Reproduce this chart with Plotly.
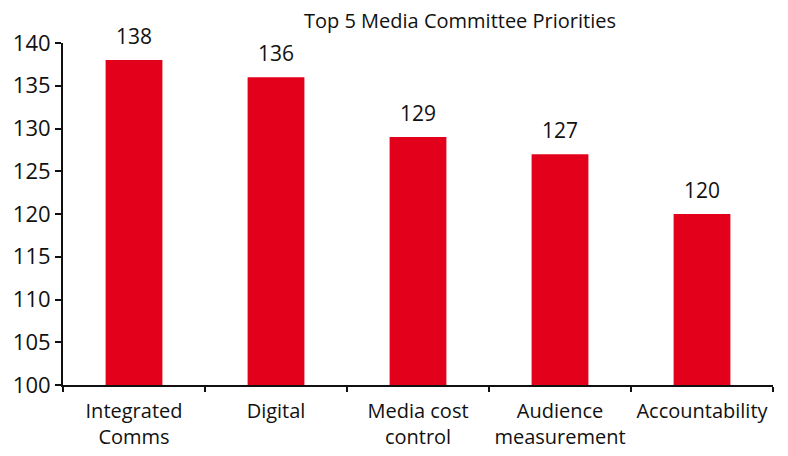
import plotly.graph_objects as go

# Survey results: top five media committee priorities
categories = ["Integrated<br>Comms", "Digital", "Media cost<br>control",
              "Audience<br>measurement", "Accountability"]
scores = [138, 136, 129, 127, 120]
y_ticks = [100, 105, 110, 115, 120, 125, 130, 135, 140]

BAR_RED = "#E3001B"
INK = "#111111"
FONT = "Open Sans"

fig = go.Figure(
    go.Bar(
        x=categories,
        y=scores,
        marker=dict(color=BAR_RED, line=dict(width=0)),
        width=0.4,
        hoverinfo="x+y",
    )
)

# value labels above each bar
for cat, val in zip(categories, scores):
    fig.add_annotation(
        x=cat, y=val, text=str(val), showarrow=False,
        yanchor="bottom", yshift=8,
        font=dict(family=FONT, size=21, color=INK),
    )

fig.update_layout(
    width=788, height=456,
    margin=dict(l=63, r=15, t=43, b=71),
    paper_bgcolor="white", plot_bgcolor="white",
    showlegend=False,
    title=dict(
        text="Top 5 Media Committee Priorities",
        x=460 / 788, xanchor="center", xref="container",
        y=1 - 21 / 456, yanchor="middle", yref="container",
        font=dict(family=FONT, size=20, color=INK),
    ),
    font=dict(family=FONT, color=INK),
)

fig.update_xaxes(
    type="category", automargin=False, tickangle=0,
    showline=True, linecolor=INK, linewidth=2,
    ticks="outside", tickson="boundaries", ticklen=5, tickwidth=2,
    tickcolor=INK, ticklabelstandoff=7,
    tickfont=dict(family=FONT, size=20, color=INK),
    showgrid=False, zeroline=False,
)
fig.update_yaxes(
    range=[100, 140], automargin=False,
    tickvals=y_ticks,
    showline=True, linecolor=INK, linewidth=2,
    ticks="outside", ticklen=6, tickwidth=2, tickcolor=INK,
    tickfont=dict(family=FONT, size=22, color=INK),
    showgrid=False, zeroline=False,
)

fig.write_html("out.html")
